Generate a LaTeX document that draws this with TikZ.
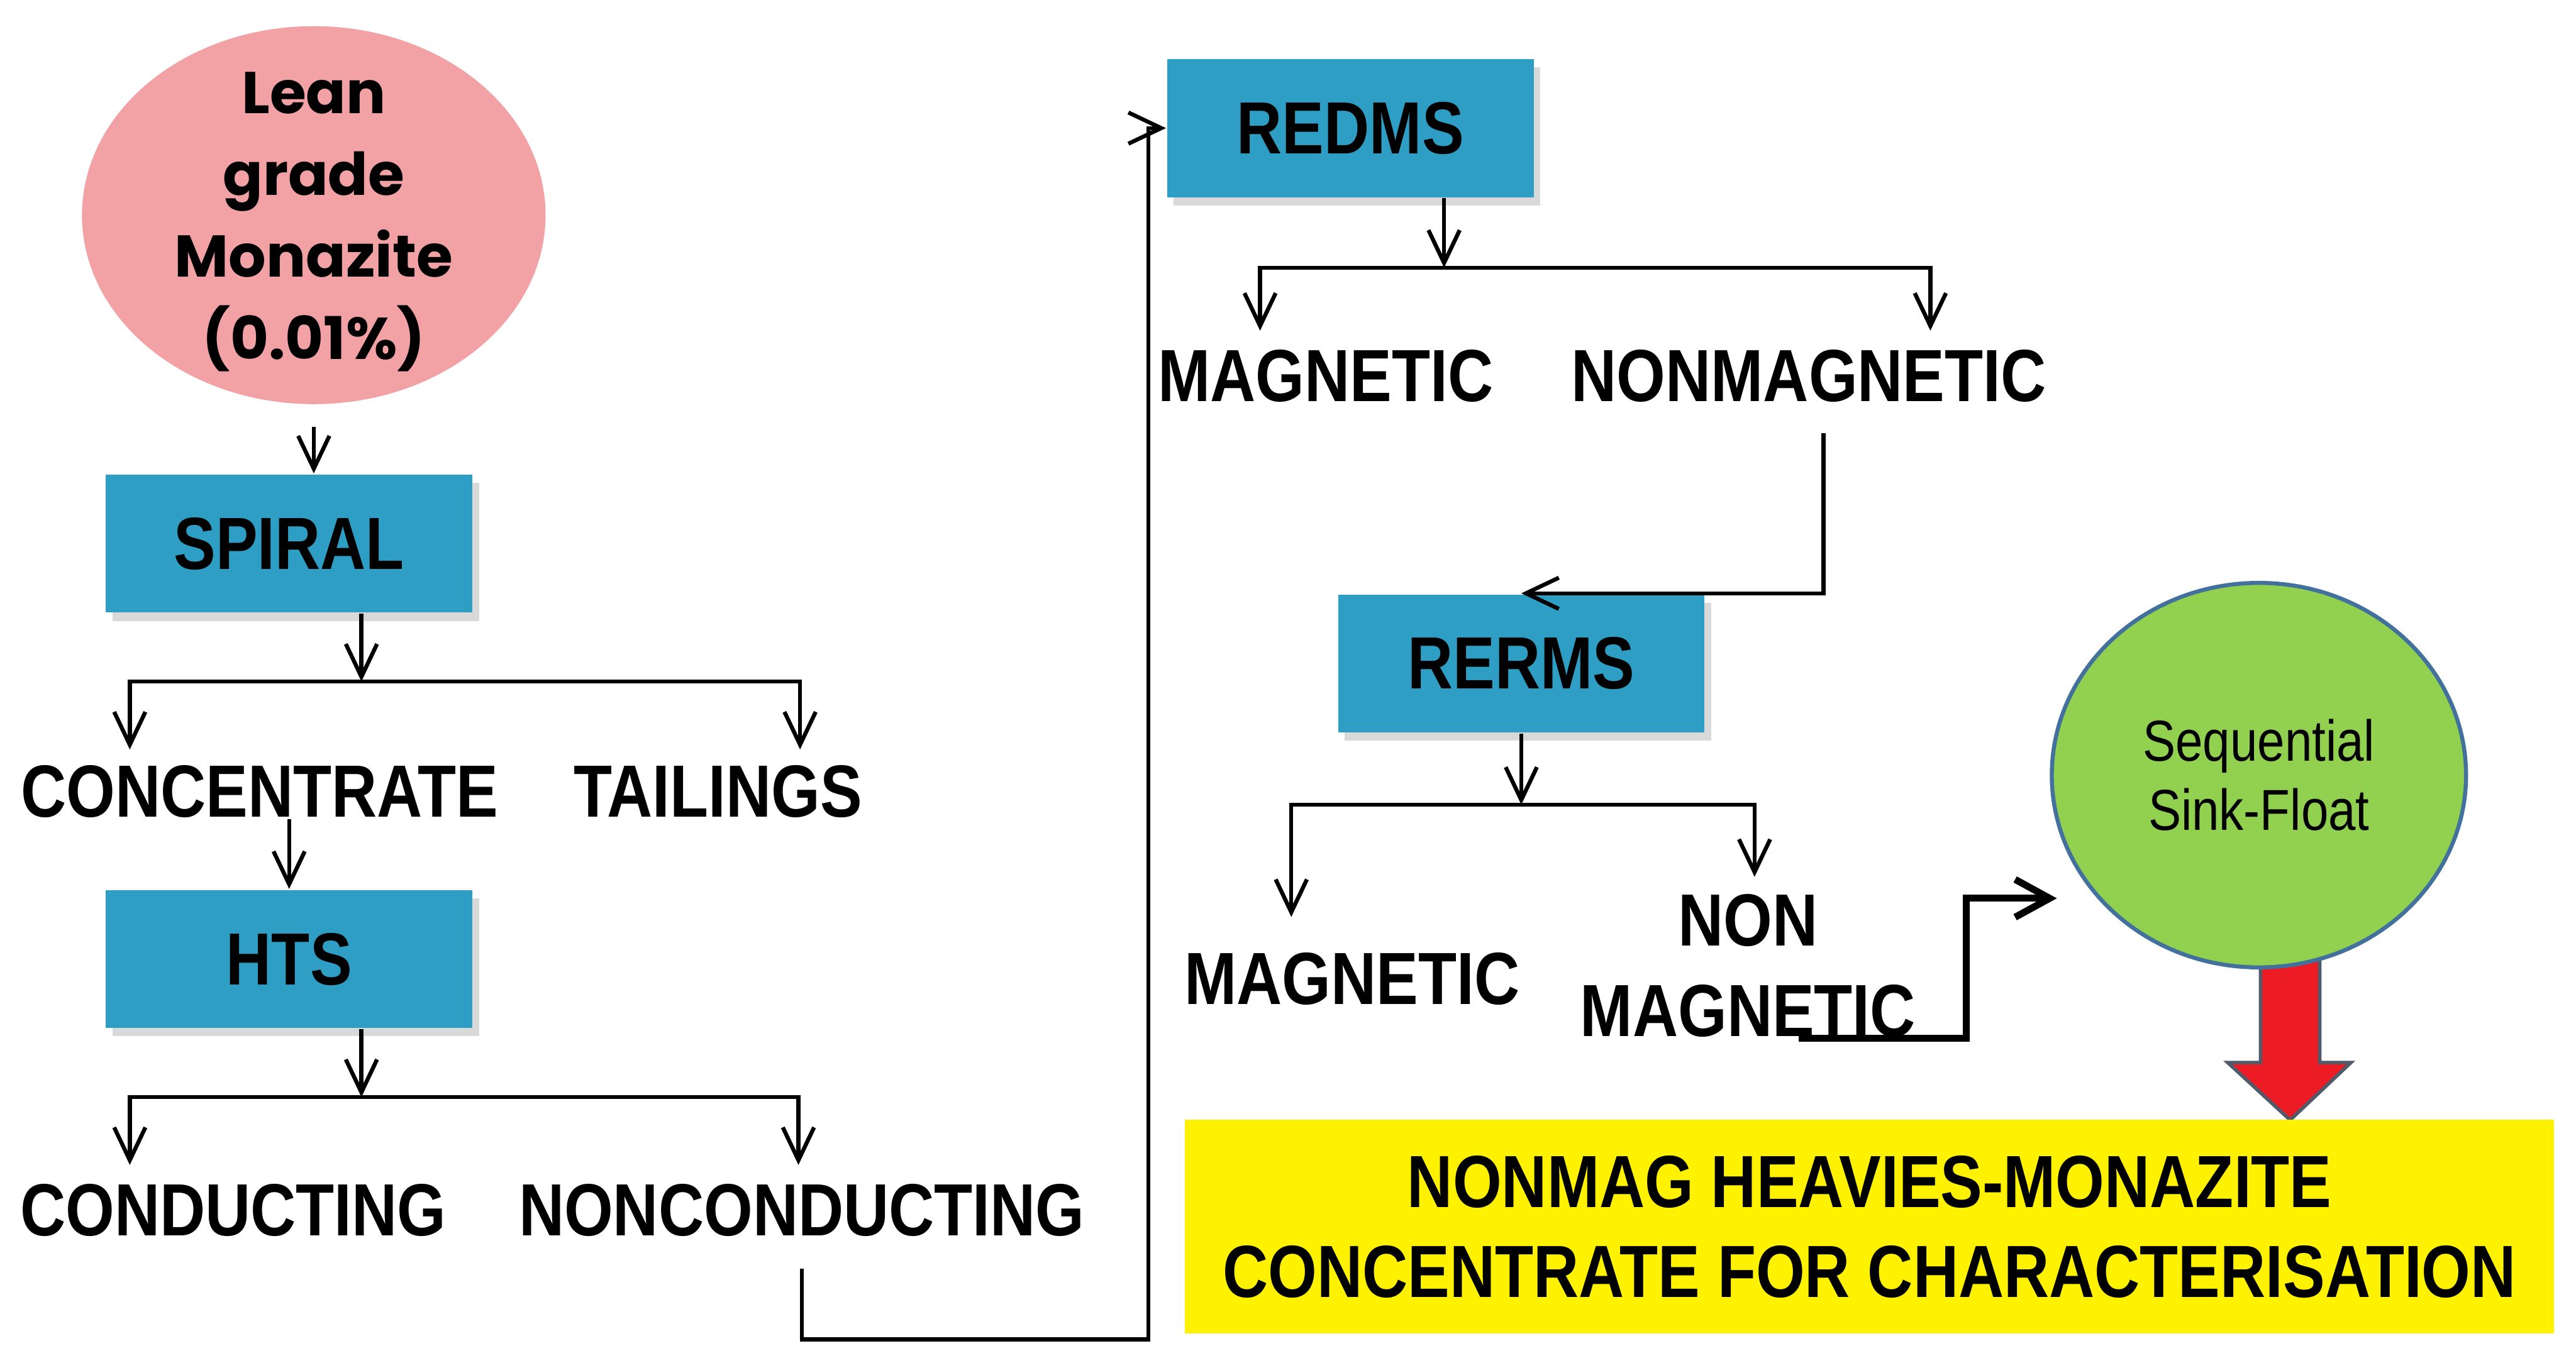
\documentclass[tikz,border=0pt]{standalone}
\usepackage{fontspec}
\newfontfamily\flowfont{Liberation Sans}[FakeStretch=0.85]
\newfontfamily\roundfont{Poppins}
\usetikzlibrary{arrows.meta, shapes.geometric, shadows}

\definecolor{stageblue}{RGB}{46,158,196}
\definecolor{feedpink}{RGB}{242,162,165}
\definecolor{sinkgreen}{RGB}{146,208,80}
\definecolor{sinkedge}{RGB}{65,113,156}
\definecolor{blockred}{RGB}{237,28,36}
\definecolor{blockedge}{RGB}{80,90,105}

\begin{document}
\begin{tikzpicture}[
    x=0.01cm, y=-0.01cm,
    feed/.style={
        ellipse,
        fill=feedpink,
        minimum width=2.82cm,
        minimum height=2.30cm,
        inner sep=0pt
    },
    feedtext/.style={
        inner sep=0pt,
        align=center,
        font=\roundfont\bfseries\fontsize{10.2}{14.2}\selectfont
    },
    stage/.style={
        rectangle,
        fill=stageblue,
        minimum width=2.23cm,
        minimum height=0.84cm,
        font=\flowfont\bfseries\fontsize{12.8}{15.6}\selectfont,
        drop shadow={shadow xshift=0.4mm, shadow yshift=-0.5mm, opacity=0.3}
    },
    outcome/.style={
        inner sep=0pt,
        align=center,
        font=\flowfont\bfseries\fontsize{12.8}{15.6}\selectfont
    },
    sinkfloat/.style={
        ellipse,
        draw=sinkedge,
        line width=0.7pt,
        fill=sinkgreen,
        minimum width=2.52cm,
        minimum height=2.34cm,
        align=center,
        font=\flowfont\fontsize{10}{12}\selectfont
    },
    product/.style={
        rectangle,
        fill=yellow,
        minimum width=8.33cm,
        minimum height=1.30cm,
        align=center,
        font=\flowfont\bfseries\fontsize{12.8}{15.6}\selectfont
    },
    flow/.style={
        -{Straight Barb[length=2mm, width=1.9mm]},
        line width=0.7pt
    },
    fork/.style={
        {Straight Barb[length=2mm, width=1.9mm]}-{Straight Barb[length=2mm, width=1.9mm]},
        line width=0.7pt
    },
    bigflow/.style={
        -{Straight Barb[length=2.1mm, width=2.3mm]},
        line width=1.2pt
    }
]
\useasboundingbox (0,0) rectangle (1568,833);

% left column
\node[feed] (lean) at (191,131) {};
\node[feedtext] (leantext) at (191,135) {Lean\\grade\\Monazite\\(0.01\%)};
\node[stage] (spiral) at (176,331) {SPIRAL};
\node[outcome] (conc) at (158,482) {CONCENTRATE};
\node[outcome] (tail) at (437,482) {TAILINGS};
\node[stage] (hts) at (176,584) {HTS};
\node[outcome] (cond) at (142,737) {CONDUCTING};
\node[outcome] (noncond) at (488,737) {NONCONDUCTING};

% middle column
\node[stage] (redms) at (822,78) {REDMS};
\node[outcome] (mag1) at (807,229) {MAGNETIC};
\node[outcome] (nonmag1) at (1101,229) {NONMAGNETIC};
\node[stage] (rerms) at (926,404) {RERMS};
\node[outcome] (mag2) at (823,596) {MAGNETIC};
\node[outcome] (nonmag2) at (1064,588) {NON\\MAGNETIC};

% red block arrow, behind the circle
\draw[fill=blockred, draw=blockedge, line width=0.6pt]
    (1376,570) -- (1376,647) -- (1356,647) -- (1394,682)
    -- (1431,647) -- (1412,647) -- (1412,570) -- cycle;

\node[sinkfloat] (sink) at (1375,472) {Sequential\\Sink-Float};
\node[product] (final) at (1138,747)
    {NONMAG HEAVIES-MONAZITE\\CONCENTRATE FOR CHARACTERISATION};

% fork points
\coordinate (s1) at (220,415);
\coordinate (sl) at (79,415);
\coordinate (sr) at (487,415);
\coordinate (h1) at (220,668);
\coordinate (hl) at (79,668);
\coordinate (hr) at (486,668);
\coordinate (r1) at (879,163);
\coordinate (rl) at (767,163);
\coordinate (rr) at (1175,163);
\coordinate (q1) at (926,490);
\coordinate (ql) at (786,490);
\coordinate (qr) at (1068,490);
\coordinate (sinkin) at (1252,547);

\draw[flow] ([yshift=-1.3mm]lean.south) -- (lean.south |- spiral.north);

\draw[flow] (spiral.south -| s1) -- (s1);
\draw[fork] ([yshift=0.9mm]sl |- conc.north) |- (sr) -- ([yshift=0.9mm]sr |- tail.north);

\draw[flow] (hts.north |- conc.south) -- (hts.north);

\draw[flow] (hts.south -| h1) -- (h1);
\draw[fork] ([yshift=1.1mm]hl |- cond.north) |- (hr) -- ([yshift=1.1mm]hr |- noncond.north);

\draw[flow] ([yshift=-1.9mm]noncond.south) -- ++(0,43) -- ++(211,0) |- (redms.west);

\draw[flow] (redms.south -| r1) -- (r1);
\draw[fork] ([yshift=1.1mm]rl |- mag1.north) |- (rr) -- ([yshift=1.1mm]rr |- nonmag1.north);

\draw[flow] ([xshift=0.9mm, yshift=-1.8mm]nonmag1.south) |- (rerms.north);

\draw[flow] (rerms.south) -- (q1);
\draw[fork] ([yshift=2.1mm]ql |- mag2.north) |- (qr) -- ([yshift=1mm]qr |- nonmag2.north);

\draw[bigflow] ([xshift=3.1mm]nonmag2.south) -- ++(102,0) |- (sinkin);

\end{tikzpicture}
\end{document}
